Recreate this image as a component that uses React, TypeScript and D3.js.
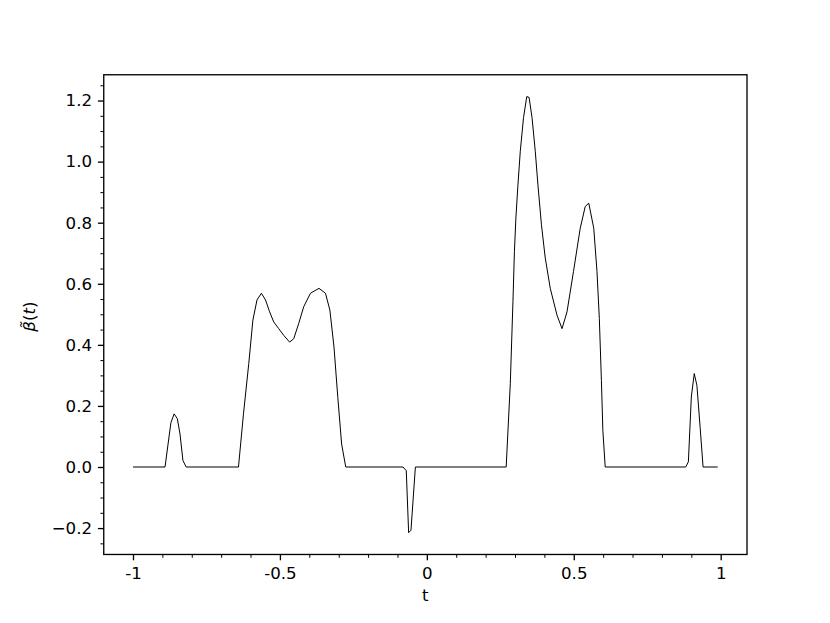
import React, { useRef, useEffect } from "react";
import * as d3 from "d3";

// curve, t and beta~(t) breakpoints
const tValues = [
  -1.0, -0.891, -0.871, -0.86, -0.849, -0.84, -0.83, -0.819,
  -0.641, -0.624, -0.606, -0.592, -0.578, -0.563, -0.549, -0.535, -0.521, -0.504,
  -0.487, -0.467, -0.453, -0.436, -0.419, -0.396, -0.367, -0.345, -0.33, -0.316,
  -0.303, -0.29, -0.276,
  -0.081, -0.07, -0.062, -0.054, -0.039,
  0.27, 0.284, 0.293, 0.298, 0.303, 0.31, 0.318, 0.329, 0.34, 0.348, 0.358, 0.369,
  0.378, 0.39, 0.403, 0.42, 0.443, 0.46, 0.477, 0.499, 0.522, 0.539, 0.551, 0.568,
  0.579, 0.587, 0.594, 0.599, 0.607,
  0.881, 0.89, 0.9, 0.91, 0.919, 0.93, 0.94, 0.99,
];
const betaValues = [
  0, 0, 0.145, 0.174, 0.158, 0.108, 0.021, 0,
  0, 0.174, 0.339, 0.481, 0.547, 0.569, 0.547, 0.508, 0.475, 0.453,
  0.431, 0.409, 0.42, 0.47, 0.525, 0.569, 0.585, 0.569, 0.514, 0.393,
  0.228, 0.075, 0,
  0, -0.012, -0.215, -0.207, 0,
  0, 0.274, 0.541, 0.705, 0.815, 0.924, 1.034, 1.144, 1.213, 1.21, 1.144, 1.034,
  0.924, 0.793, 0.684, 0.585, 0.497, 0.453, 0.508, 0.64, 0.782, 0.853, 0.864, 0.782,
  0.64, 0.486, 0.284, 0.119, 0,
  0, 0.017, 0.229, 0.306, 0.267, 0.13, 0, 0,
];

const xMajorTicks = [-1, -0.5, 0, 0.5, 1];
const xTickLabels = ["-1", "-0.5", "0", "0.5", "1"];
const xMinorTicks = [-0.9, -0.8, -0.7, -0.6, -0.4, -0.3, -0.2, -0.1, 0.1, 0.2, 0.3, 0.4, 0.6, 0.7, 0.8, 0.9];
const yMajorTicks = [-0.2, 0, 0.2, 0.4, 0.6, 0.8, 1.0, 1.2];
const yTickLabels = ["\u22120.2", "0.0", "0.2", "0.4", "0.6", "0.8", "1.0", "1.2"];
const yMinorTicks = [-0.25, -0.15, -0.1, -0.05, 0.05, 0.1, 0.15, 0.25, 0.3, 0.35, 0.45, 0.5, 0.55, 0.65, 0.7, 0.75, 0.85, 0.9, 0.95, 1.05, 1.1, 1.15, 1.25];

const width = 830;
const height = 623;
const margin = { left: 103.75, right: 83, top: 74.76, bottom: 68.53 };
const font = "DejaVu Sans";
const fontSize = 16.67;

export default function App() {
  const svgRef = useRef(null);

  useEffect(() => {
    const svg = d3.select(svgRef.current);
    svg.selectAll("*").remove();

    const data = tValues.map((t, i) => ({ t, b: betaValues[i] }));

    // matplotlib-like 5% margins
    const [tMin, tMax] = d3.extent(tValues);
    const [bMin, bMax] = d3.extent(betaValues);
    const tPad = (tMax - tMin) * 0.05;
    const bPad = (bMax - bMin) * 0.05;

    const x = d3
      .scaleLinear()
      .domain([tMin - tPad, tMax + tPad])
      .range([margin.left, width - margin.right]);

    const y = d3
      .scaleLinear()
      .domain([bMin - bPad, bMax + bPad])
      .range([height - margin.bottom, margin.top]);

    const line = d3
      .line()
      .x((d) => x(d.t))
      .y((d) => y(d.b));

    svg
      .append("path")
      .attr("d", line(data))
      .attr("fill", "none")
      .attr("stroke", "black")
      .attr("stroke-width", 1)
      .attr("stroke-linejoin", "round");

    const styleAxis = (g, sw) => {
      g.select(".domain").remove();
      g.selectAll("line").attr("stroke", "black").attr("stroke-width", sw);
      g.selectAll("text")
        .attr("fill", "black")
        .attr("font-family", font)
        .attr("font-size", fontSize);
    };

    // minor ticks
    svg
      .append("g")
      .attr("transform", `translate(0,${height - margin.bottom})`)
      .call(d3.axisBottom(x).tickValues(xMinorTicks).tickSize(3.33).tickFormat(() => ""))
      .call((g) => styleAxis(g, 1));
    svg
      .append("g")
      .attr("transform", `translate(${margin.left},0)`)
      .call(d3.axisLeft(y).tickValues(yMinorTicks).tickSize(3.33).tickFormat(() => ""))
      .call((g) => styleAxis(g, 1));

    // major ticks
    svg
      .append("g")
      .attr("transform", `translate(0,${height - margin.bottom})`)
      .call(
        d3
          .axisBottom(x)
          .tickValues(xMajorTicks)
          .tickSize(5.83)
          .tickPadding(6.5)
          .tickFormat((d, i) => xTickLabels[i])
      )
      .call((g) => styleAxis(g, 1.33));
    svg
      .append("g")
      .attr("transform", `translate(${margin.left},0)`)
      .call(
        d3
          .axisLeft(y)
          .tickValues(yMajorTicks)
          .tickSize(5.83)
          .tickPadding(5.83)
          .tickFormat((d, i) => yTickLabels[i])
      )
      .call((g) => styleAxis(g, 1.33));

    // frame
    svg
      .append("rect")
      .attr("x", margin.left)
      .attr("y", margin.top)
      .attr("width", width - margin.left - margin.right)
      .attr("height", height - margin.top - margin.bottom)
      .attr("fill", "none")
      .attr("stroke", "black")
      .attr("stroke-width", 1.33);

    // axis labels
    svg
      .append("text")
      .attr("x", (margin.left + width - margin.right) / 2)
      .attr("y", 601)
      .attr("text-anchor", "middle")
      .attr("font-family", font)
      .attr("font-size", fontSize)
      .text("t");

    const ylab = svg
      .append("text")
      .attr("transform", `translate(35,${(margin.top + height - margin.bottom) / 2 + 2}) rotate(-90)`)
      .attr("text-anchor", "middle")
      .attr("font-family", font)
      .attr("font-size", fontSize);
    ylab.append("tspan").attr("font-style", "italic").text("\u03b2\u0303");
    ylab.append("tspan").text("(");
    ylab.append("tspan").attr("font-style", "italic").text("t");
    ylab.append("tspan").text(")");
  }, []);

  return (
    <div style={{ position: "absolute", left: 0, top: 0 }}>
      <svg ref={svgRef} width={width} height={height} style={{ display: "block" }}></svg>
    </div>
  );
}
